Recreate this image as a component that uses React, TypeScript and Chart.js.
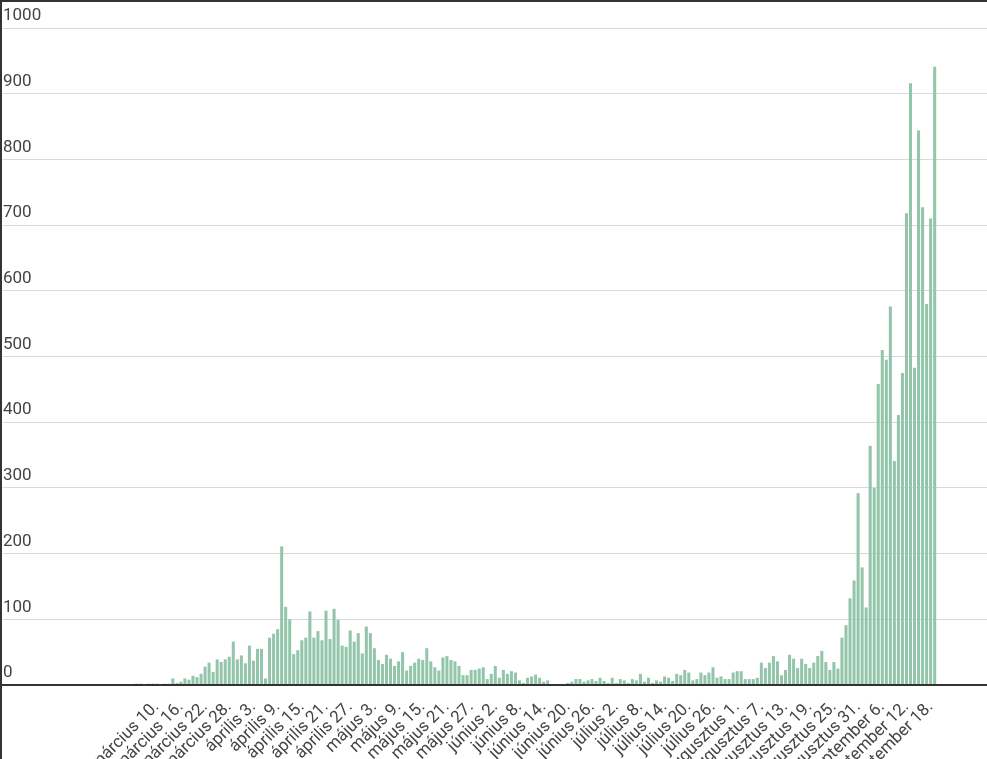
import React, { useEffect, useRef } from "react";
import { Chart, registerables } from "chart.js";

Chart.register(...registerables);

// Daily new cases, first value = 2020-03-04
const START_YEAR = 2020;
const START_MONTH = 2; // March (0-based)
const START_DAY = 4;

const MONTH_NAMES = [
  "január", "február", "március", "április", "május", "június",
  "július", "augusztus", "szeptember", "október", "november", "december",
];

// March 4 – 31
const marchCases = [0, 2, 2, 0, 2, 2, 2, 0, 2, 2, 10, 3, 5, 10, 8, 14, 12, 17, 28, 34, 20, 39, 35, 39, 43, 66, 39, 45];
// April 1 – 30
const aprilCases = [33, 60, 37, 55, 55, 10, 72, 78, 85, 211, 119, 100, 47, 53, 68, 72, 112, 72, 82, 68, 113, 70, 116, 99, 60, 58, 83, 66, 79, 48];
// May 1 – 31
const mayCases = [89, 79, 56, 38, 32, 46, 40, 29, 36, 50, 22, 29, 34, 40, 38, 56, 36, 27, 22, 42, 44, 38, 36, 29, 15, 15, 23, 23, 25, 27, 9];
// June 1 – 30
const juneCases = [17, 29, 11, 23, 17, 21, 19, 7, 3, 11, 13, 16, 11, 5, 7, 0, 0, 0, 0, 3, 5, 9, 9, 5, 7, 9, 6, 11, 6, 3];
// July 1 – 31
const julyCases = [11, 3, 9, 7, 3, 9, 7, 17, 5, 11, 3, 7, 5, 13, 11, 6, 17, 15, 23, 19, 7, 9, 19, 15, 19, 27, 11, 13, 9, 9, 19];
// August 1 – 31
const augustCases = [21, 21, 9, 9, 9, 11, 34, 26, 34, 44, 36, 15, 23, 46, 40, 26, 40, 32, 26, 34, 44, 52, 35, 23, 35, 25, 72, 91, 132, 159, 292];
// September 1 – 19
const septemberCases = [179, 118, 364, 300, 458, 510, 495, 576, 341, 411, 475, 718, 916, 483, 844, 727, 580, 710, 941];

// Day offsets (from March 4) that carry a tick label: every 6th day, March 10 … September 18
const labelDays = [6, 12, 18, 24, 30, 36, 42, 48, 54, 60, 66, 72, 78, 84, 90, 96, 102, 108, 114, 120, 126, 132, 138, 144, 150, 156, 162, 168, 174, 180, 186, 192, 198];
const yTickValues = [0, 100, 200, 300, 400, 500, 600, 700, 800, 900, 1000];

const X_MIN = -32.13;
const X_MAX = 211.98;

function dayLabel(offset: number): string {
  const d = new Date(Date.UTC(START_YEAR, START_MONTH, START_DAY + Math.round(offset)));
  return `${MONTH_NAMES[d.getUTCMonth()]} ${d.getUTCDate()}.`;
}

export default function App() {
  const canvasRef = useRef<HTMLCanvasElement | null>(null);

  useEffect(() => {
    if (!canvasRef.current) return;
    const values = [
      ...marchCases, ...aprilCases, ...mayCases, ...juneCases,
      ...julyCases, ...augustCases, ...septemberCases,
    ];
    const points = values.map((v, i) => ({ x: i, y: v }));
    const font = { family: "Roboto", size: 17 };

    const chart = new Chart(canvasRef.current, {
      type: "bar",
      data: {
        datasets: [
          {
            data: points as any,
            backgroundColor: "#92c5a9",
            borderWidth: 0,
            barPercentage: 0.75,
            categoryPercentage: 1,
          },
        ],
      },
      options: {
        animation: false,
        responsive: false,
        maintainAspectRatio: false,
        layout: { padding: { top: 26, left: 1, right: 0, bottom: 0 } },
        plugins: { legend: { display: false }, tooltip: { enabled: false } },
        scales: {
          x: {
            type: "linear",
            min: X_MIN,
            max: X_MAX,
            offset: false,
            grid: { display: false, drawTicks: false },
            border: { display: true, color: "#333333", width: 2, z: 1 } as any,
            afterBuildTicks: (scale: any) => {
              scale.ticks = labelDays.map((v) => ({ value: v }));
            },
            afterFit: (scale: any) => {
              scale.height = 74;
            },
            ticks: {
              autoSkip: false,
              minRotation: 45,
              maxRotation: 45,
              padding: 12,
              color: "#444444",
              font,
              callback: (v: any) => dayLabel(Number(v)),
            },
          },
          y: {
            min: 0,
            max: 1000,
            afterBuildTicks: (scale: any) => {
              scale.ticks = yTickValues.map((v) => ({ value: v }));
            },
            afterFit: (scale: any) => {
              scale.width = 0;
            },
            grid: { color: "#d9d9d9", drawTicks: false, lineWidth: 1 },
            border: { display: false },
            ticks: {
              mirror: true,
              padding: 0,
              labelOffset: -12,
              color: "#444444",
              font,
              callback: (v: any) => String(v),
            },
          },
        },
      } as any,
    });
    return () => chart.destroy();
  }, []);

  return (
    <div
      style={{
        position: "absolute",
        left: 0,
        top: 0,
        width: 987,
        height: 759,
        boxSizing: "border-box",
        borderTop: "2px solid #333333",
        borderLeft: "2px solid #333333",
        overflow: "hidden",
        background: "#ffffff",
      }}
    >
      <canvas ref={canvasRef} width={985} height={757} style={{ display: "block", width: 985, height: 757 }} />
    </div>
  );
}
